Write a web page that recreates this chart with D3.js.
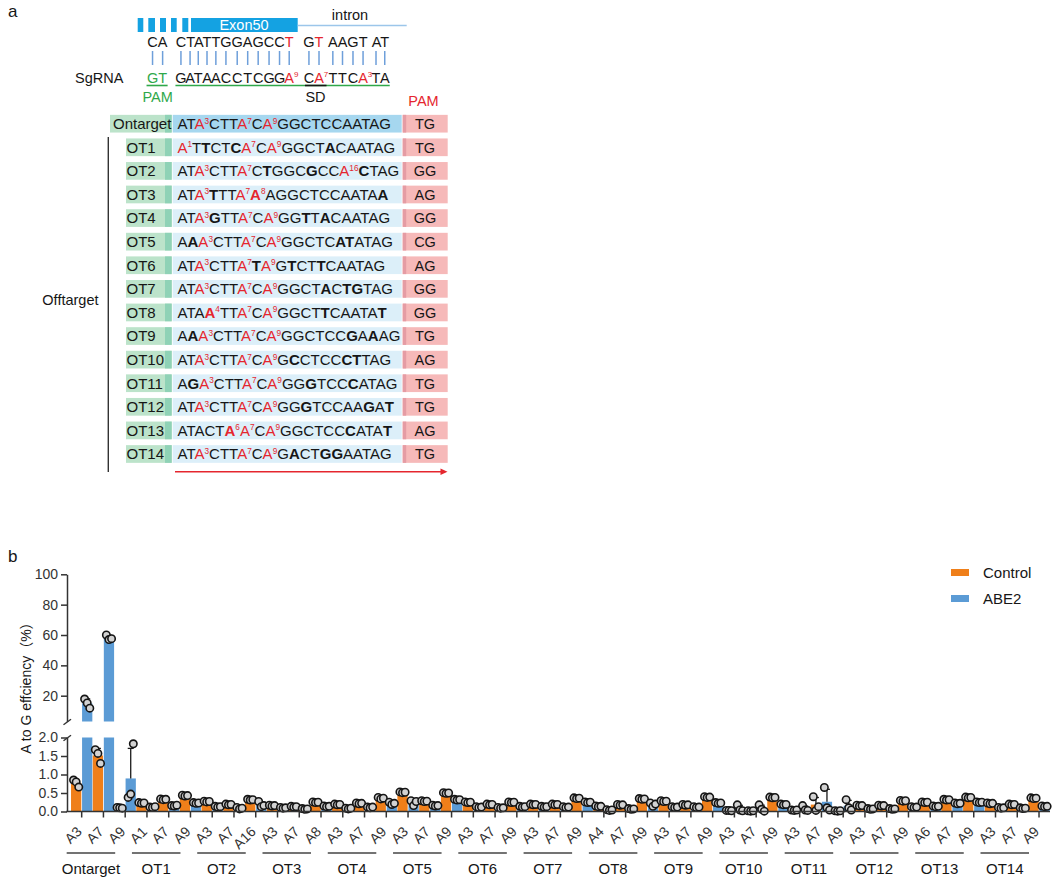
<!DOCTYPE html>
<html><head><meta charset="utf-8">
<script src="https://cdn.jsdelivr.net/npm/d3@7"></script>
<style>
body{margin:0;background:#fff;}
svg{display:block;font-family:"Liberation Sans",Arial,"Noto Sans CJK SC",sans-serif;}
</style></head><body>
<svg id="fig" width="1052" height="879"></svg>
<script>
// ---------- panel a data: target locus, sgRNA and candidate sites ----------
const locusGroups = ["CA", "CTATTGGAGCCT", "GT", "AAGT", "AT"];
const locusRedChars = [[], [11], [1], [], []];           // red bases (index inside each group)
const sgrnaTokens = "GT|GATAACCTCGG[A9]C[A7]TTC[A3]TA";  // "|" separates PAM from protospacer
const siteNames = ["Ontarget", "OT1", "OT2", "OT3", "OT4", "OT5", "OT6", "OT7",
                   "OT8", "OT9", "OT10", "OT11", "OT12", "OT13", "OT14"];
// [An] = red A with position n, {An} = bold red A, *X = bold mismatch
const siteSeqs = [
  "AT[A3]CTT[A7]C[A9]GGCTCCAATAG",
  "[A1]T*TCT*C[A7]C[A9]GGCT*ACAATAG",
  "AT[A3]CTT[A7]C*TGGC*GCC[A16]*CTAG",
  "AT[A3]*TTT[A7]{A8}AGGCTCCAATA*A",
  "AT[A3]*GTT[A7]C[A9]GG*TT*ACAATAG",
  "A*A[A3]CTT[A7]C[A9]GGCTC*A*TATAG",
  "AT[A3]CTT[A7]*T[A9]G*TCT*TCAATAG",
  "AT[A3]CTT[A7]C[A9]GGCT*AC*T*GTAG",
  "ATA{A4}TT[A7]C[A9]GGCT*TCAATA*T",
  "A*A[A3]CTT[A7]C[A9]GGCTCC*GA*AAG",
  "AT[A3]CTT[A7]C[A9]G*CCTCC*C*TTAG",
  "A*G[A3]CTT[A7]C[A9]GG*GTCC*CATAG",
  "AT[A3]CTT[A7]C[A9]GG*GTCCAA*GA*T",
  "ATACT{A6}[A7]C[A9]GGCTCC*CATA*T",
  "AT[A3]CTT[A7]C[A9]G*ACT*G*GAATAG"
];
const sitePams = ["TG", "TG", "GG", "AG", "GG", "CG", "AG", "GG", "GG", "TG", "AG", "TG", "TG", "AG", "TG"];

// ---------- panel b data: A-to-G editing efficiency (%), three replicates ----------
const groups = ["Ontarget", "OT1", "OT2", "OT3", "OT4", "OT5", "OT6", "OT7",
                "OT8", "OT9", "OT10", "OT11", "OT12", "OT13", "OT14"];
const siteLabels = [
  ["A3", "A7", "A9"], ["A1", "A7", "A9"], ["A3", "A7", "A16"], ["A3", "A7", "A8"],
  ["A3", "A7", "A9"], ["A3", "A7", "A9"], ["A3", "A7", "A9"], ["A3", "A7", "A9"],
  ["A4", "A7", "A9"], ["A3", "A7", "A9"], ["A3", "A7", "A9"], ["A3", "A7", "A9"],
  ["A3", "A7", "A9"], ["A6", "A7", "A9"], ["A3", "A7", "A9"]
];
const controlPts = [
  [0.85, 0.80, 0.66], [1.67, 1.57, 1.30], [0.11, 0.10, 0.09],
  [0.24, 0.22, 0.23], [0.34, 0.32, 0.33], [0.44, 0.42, 0.43],
  [0.28, 0.26, 0.27], [0.20, 0.18, 0.19], [0.33, 0.31, 0.32],
  [0.17, 0.15, 0.16], [0.14, 0.12, 0.13], [0.26, 0.24, 0.25],
  [0.20, 0.18, 0.19], [0.23, 0.21, 0.22], [0.38, 0.34, 0.36],
  [0.53, 0.51, 0.52], [0.29, 0.27, 0.28], [0.51, 0.49, 0.50],
  [0.26, 0.24, 0.25], [0.20, 0.18, 0.19], [0.26, 0.24, 0.25],
  [0.20, 0.18, 0.19], [0.20, 0.18, 0.19], [0.37, 0.35, 0.36],
  [0.15, 0.13, 0.14], [0.19, 0.17, 0.18], [0.35, 0.33, 0.34],
  [0.29, 0.27, 0.28], [0.19, 0.17, 0.18], [0.40, 0.38, 0.39],
  [0.03, 0.03, 0.02], [0.02, 0.01, 0.02], [0.39, 0.37, 0.38],
  [0.04, 0.03, 0.04], [0.40, 0.03, 0.13], [0.02, 0.01, 0.02],
  [0.17, 0.15, 0.16], [0.17, 0.15, 0.16], [0.30, 0.28, 0.29],
  [0.26, 0.24, 0.25], [0.33, 0.31, 0.32], [0.39, 0.37, 0.38],
  [0.23, 0.21, 0.22], [0.20, 0.18, 0.19], [0.37, 0.35, 0.36]
];
const abe2Pts = [
  [17.8, 15.2, 11.8], [60.0, 57.0, 57.6], [0.38, 0.47, 1.83],
  [0.12, 0.11, 0.13], [0.16, 0.15, 0.17], [0.24, 0.22, 0.23],
  [0.14, 0.12, 0.13], [0.11, 0.07, 0.09], [0.27, 0.13, 0.16],
  [0.11, 0.09, 0.10], [0.08, 0.06, 0.07], [0.15, 0.13, 0.14],
  [0.09, 0.07, 0.09], [0.12, 0.10, 0.12], [0.25, 0.19, 0.22],
  [0.29, 0.16, 0.27], [0.17, 0.15, 0.16], [0.33, 0.31, 0.32],
  [0.13, 0.11, 0.12], [0.11, 0.09, 0.10], [0.14, 0.12, 0.13],
  [0.14, 0.12, 0.13], [0.13, 0.11, 0.12], [0.26, 0.24, 0.25],
  [0.05, 0.03, 0.04], [0.08, 0.06, 0.07], [0.23, 0.14, 0.20],
  [0.13, 0.11, 0.12], [0.13, 0.11, 0.12], [0.24, 0.22, 0.23],
  [0.18, 0.04, 0.02], [0.18, 0.06, 0.01], [0.20, 0.18, 0.19],
  [0.16, 0.04, 0.03], [0.65, 0.10, 0.04], [0.32, 0.10, 0.04],
  [0.08, 0.06, 0.07], [0.08, 0.06, 0.07], [0.13, 0.11, 0.12],
  [0.15, 0.13, 0.14], [0.23, 0.21, 0.22], [0.26, 0.24, 0.25],
  [0.11, 0.09, 0.10], [0.10, 0.08, 0.09], [0.15, 0.13, 0.14]
];
const seriesNames = ["Control", "ABE2"];
const yTicksLow = [0, 0.5, 1.0, 1.5, 2.0];
const yTicksHigh = [20, 40, 60, 80, 100];

// ---------- shared styling ----------
const RED = "#E5262E", GREEN = "#2FA84A", INK = "#161616";
const seriesColor = {Control: "#EF7F1A", ABE2: "#5B9BD5"};

const svg = d3.select("#fig");

// parse a marked-up sequence into per-base tokens
function parseSeq(s) {
  const out = [];
  let i = 0;
  while (i < s.length) {
    const c = s[i];
    if (c === "[" || c === "{") {
      const close = c === "[" ? "]" : "}";
      const j = s.indexOf(close, i);
      const body = s.slice(i + 1, j);
      out.push({ch: body[0], sup: body.slice(1), red: true, bold: c === "{"});
      i = j + 1;
    } else if (c === "*") {
      out.push({ch: s[i + 1], bold: true});
      i += 2;
    } else if (c === "|") {
      out.push({sep: true});
      i += 1;
    } else {
      out.push({ch: c});
      i += 1;
    }
  }
  return out;
}

// write tokens as tspans of one text element
function writeSeq(textSel, tokens, fs) {
  let lift = 0;
  tokens.forEach(t => {
    const base = textSel.append("tspan").text(t.ch)
      .attr("fill", t.red ? RED : INK)
      .attr("font-weight", t.bold ? "bold" : null);
    if (lift) { base.attr("dy", lift); lift = 0; }
    if (t.sup) {
      textSel.append("tspan").text(t.sup)
        .attr("font-size", fs * 0.55).attr("dy", -fs * 0.36)
        .attr("fill", RED);
      lift = fs * 0.36;
    }
  });
}

// ---------- panel a ----------
const pa = svg.append("g");
pa.append("text").attr("x", 8).attr("y", 17).attr("font-size", 17).attr("fill", INK).text("a");

// gene structure: exon blocks, exon 50 and intron
const blockX = [[137.7, 143.3], [148.3, 155], [160, 166], [171, 176.7], [182.3, 188.3]];
pa.selectAll("rect.blk").data(blockX).join("rect").attr("class", "blk")
  .attr("x", d => d[0]).attr("width", d => d[1] - d[0]).attr("y", 18).attr("height", 14)
  .attr("fill", "#14A2E2");
pa.append("rect").attr("x", 191).attr("y", 18).attr("width", 106.7).attr("height", 14).attr("fill", "#14A2E2");
pa.append("text").attr("x", 244).attr("y", 30).attr("text-anchor", "middle")
  .attr("font-size", 14.5).attr("fill", "#fff").text("Exon50");
pa.append("line").attr("x1", 297.7).attr("x2", 406.7).attr("y1", 25.5).attr("y2", 25.5)
  .attr("stroke", "#9CC6EA").attr("stroke-width", 1.5);
pa.append("text").attr("x", 350).attr("y", 20).attr("text-anchor", "middle")
  .attr("font-size", 14.5).attr("fill", INK).text("intron");

// genomic sequence, base by base
const locusStart = [147.3, 175.7, 303.3, 328, 371.7];
const colCenters = [];
locusGroups.forEach((g, gi) => {
  const t = pa.append("text").attr("x", locusStart[gi]).attr("y", 46.7).attr("font-size", 14.5);
  [...g].forEach((ch, ci) => {
    t.append("tspan").text(ch).attr("fill", locusRedChars[gi].includes(ci) ? RED : INK);
  });
  const node = t.node();
  for (let ci = 0; ci < g.length; ci++) {
    const e = node.getExtentOfChar(ci);
    colCenters.push({x: e.x + e.width / 2, w: e.width});
  }
});
// base-pairing ticks
pa.selectAll("line.pair").data(colCenters).join("line").attr("class", "pair")
  .attr("x1", d => d.x).attr("x2", d => d.x).attr("y1", 51).attr("y2", 65)
  .attr("stroke", "#6E9FDA").attr("stroke-width", 1.5);

// sgRNA bases placed under their partners
pa.append("text").attr("x", 75).attr("y", 82.5).attr("font-size", 14.5).attr("fill", INK).text("SgRNA");
const sgTok = parseSeq(sgrnaTokens);
let col = 0, inPam = true;
sgTok.forEach(t => {
  if (t.sep) { inPam = false; return; }
  const c = colCenters[col++];
  pa.append("text").attr("x", c.x).attr("y", 82.5).attr("text-anchor", "middle")
    .attr("font-size", 14.5).attr("fill", inPam ? GREEN : (t.red ? RED : INK)).text(t.ch);
  if (t.sup) {
    pa.append("text").attr("x", c.x + c.w / 2 + 0.3).attr("y", 77).attr("font-size", 8)
      .attr("fill", RED).text(t.sup);
  }
});
// underlines: PAM, protospacer, splice donor
const ul = (x1, x2, color) => pa.append("line").attr("x1", x1).attr("x2", x2)
  .attr("y1", 85.5).attr("y2", 85.5).attr("stroke", color).attr("stroke-width", 1.6);
ul(colCenters[0].x - 6, colCenters[1].x + 5, GREEN);
ul(colCenters[2].x - 5.5, colCenters[21].x + 5, GREEN);
ul(colCenters[14].x - 4, colCenters[15].x + 7.5, INK);
pa.append("text").attr("x", (colCenters[0].x + colCenters[1].x) / 2).attr("y", 101.7)
  .attr("text-anchor", "middle").attr("font-size", 14.5).attr("fill", GREEN).text("PAM");
pa.append("text").attr("x", (colCenters[14].x + colCenters[15].x) / 2 + 1.5).attr("y", 101.7)
  .attr("text-anchor", "middle").attr("font-size", 14.5).attr("fill", INK).text("SD");
pa.append("text").attr("x", 423.5).attr("y", 106).attr("text-anchor", "middle")
  .attr("font-size", 14.5).attr("fill", RED).text("PAM");

// site table
const rowY = d3.scalePoint().domain(siteNames).range([123.7, 454]);
const rowH = 17.7;
siteNames.forEach((name, i) => {
  const yc = rowY(name);
  const onT = i === 0;
  const g = pa.append("g");
  const lx = onT ? 110 : 126;
  g.append("rect").attr("x", lx).attr("y", yc - rowH / 2).attr("width", 171.7 - lx).attr("height", rowH).attr("fill", "#BCE3CA");
  g.append("rect").attr("x", 165).attr("y", yc - rowH / 2).attr("width", 6.7).attr("height", rowH).attr("fill", "#8FD2B6");
  g.append("rect").attr("x", 172.7).attr("y", yc - rowH / 2).attr("width", 229).attr("height", rowH)
    .attr("fill", onT ? "#A6D7EF" : "#DCEFF9");
  g.append("rect").attr("x", 402.7).attr("y", yc - rowH / 2).attr("width", 45).attr("height", rowH).attr("fill", "#F6B9B9");
  g.append("rect").attr("x", 402.7).attr("y", yc - rowH / 2).attr("width", 3.5).attr("height", rowH).attr("fill", "#E59CA4");
  g.append("text").attr("x", lx + (onT ? 3 : 0.5)).attr("y", yc + 5.4).attr("font-size", 15).attr("fill", INK).text(name);
  const st = g.append("text").attr("x", 177.5).attr("y", yc + 5.4).attr("font-size", 15);
  writeSeq(st, parseSeq(siteSeqs[i]), 15);
  g.append("text").attr("x", 425).attr("y", yc + 5.4).attr("text-anchor", "middle")
    .attr("font-size", 14.5).attr("fill", INK).text(sitePams[i]);
});
// off-target bracket
pa.append("line").attr("x1", 108.3).attr("x2", 108.3).attr("y1", 137).attr("y2", 472)
  .attr("stroke", "#333").attr("stroke-width", 1.4);
pa.append("text").attr("x", 98.5).attr("y", 305).attr("text-anchor", "end")
  .attr("font-size", 14.5).attr("fill", INK).text("Offtarget");
// 5'->3' arrow
pa.append("line").attr("x1", 175).attr("x2", 442).attr("y1", 471.7).attr("y2", 471.7)
  .attr("stroke", RED).attr("stroke-width", 1.4);
pa.append("path").attr("d", "M447.5,471.7 L440.5,468.4 L440.5,475 Z").attr("fill", RED);

// ---------- panel b ----------
const pb = svg.append("g");
pb.append("text").attr("x", 8).attr("y", 562).attr("font-size", 17).attr("fill", INK).text("b");

const cats = [];
groups.forEach((g, gi) => siteLabels[gi].forEach(l => cats.push({group: g, label: l, id: g + "|" + l})));
cats.forEach((c, i) => { c.Control = controlPts[i]; c.ABE2 = abe2Pts[i]; });

const x = d3.scaleBand().domain(cats.map(c => c.id)).range([70.8, 1049.9]).padding(0);
const bw = x.bandwidth();
const xs = d3.scaleBand().domain(seriesNames).range([0, bw]).paddingInner(0.07).paddingOuter(0.02);
const yLow = d3.scaleLinear().domain([0, 2]).range([811.5, 737.5]);
const yHigh = d3.scaleLinear().domain([3, 100]).range([721.5, 574.3]);
const yPos = v => (v <= 2 ? yLow(v) : yHigh(v));

// bars (broken axis: values above 2 run through the lower segment into the upper one)
const barG = pb.append("g");
cats.forEach(c => {
  seriesNames.forEach(s => {
    const m = d3.mean(c[s]);
    const bx = x(c.id) + xs(s);
    const col = seriesColor[s];
    if (m <= 2) {
      barG.append("rect").attr("x", bx).attr("width", xs.bandwidth())
        .attr("y", yLow(m)).attr("height", yLow(0) - yLow(m)).attr("fill", col);
    } else {
      barG.append("rect").attr("x", bx).attr("width", xs.bandwidth())
        .attr("y", yLow(2)).attr("height", yLow(0) - yLow(2)).attr("fill", col);
      barG.append("rect").attr("x", bx).attr("width", xs.bandwidth())
        .attr("y", yHigh(m)).attr("height", yHigh(3) - yHigh(m)).attr("fill", col);
    }
  });
});

// error bars (mean + SD)
const errG = pb.append("g").attr("stroke", "#1a1a1a").attr("stroke-width", 1.3);
cats.forEach(c => {
  seriesNames.forEach(s => {
    const m = d3.mean(c[s]), sd = d3.deviation(c[s]);
    const cx = x(c.id) + xs(s) + xs.bandwidth() / 2;
    errG.append("line").attr("x1", cx).attr("x2", cx).attr("y1", yPos(m)).attr("y2", yPos(m + sd));
    errG.append("line").attr("x1", cx - 3).attr("x2", cx + 3).attr("y1", yPos(m + sd)).attr("y2", yPos(m + sd));
  });
});

// replicate points
const jitter = [-2.6, 0, 2.6];
const ptG = pb.append("g");
cats.forEach(c => {
  seriesNames.forEach(s => {
    const cx = x(c.id) + xs(s) + xs.bandwidth() / 2;
    c[s].forEach((v, k) => {
      ptG.append("circle").attr("cx", cx + jitter[k]).attr("cy", yPos(v)).attr("r", 3.7)
        .attr("fill", "#d2d2d2").attr("stroke", "#151515").attr("stroke-width", 1.6);
    });
  });
});

// axes
const axisColor = "#333";
const styleAxis = g => {
  g.selectAll("path,line").attr("stroke", axisColor).attr("stroke-width", 1.5);
  g.selectAll("text").attr("fill", axisColor).attr("font-size", 14)
    .attr("font-family", "Liberation Sans, Arial, sans-serif");
};
pb.append("g").attr("transform", "translate(67,0)")
  .call(d3.axisLeft(yLow).tickValues(yTicksLow).tickFormat(d3.format(".1f")).tickSize(6).tickSizeOuter(0))
  .call(styleAxis);
pb.append("g").attr("transform", "translate(67,0)")
  .call(d3.axisLeft(yHigh).tickValues(yTicksHigh).tickSize(6).tickSizeOuter(0))
  .call(styleAxis);
// break marks
[722, 738].forEach(yb => {
  pb.append("line").attr("x1", 63.5).attr("x2", 71).attr("y1", yb + 2.8).attr("y2", yb - 2.8)
    .attr("stroke", axisColor).attr("stroke-width", 1.4);
});

const xAxis = pb.append("g").attr("transform", `translate(0,${yLow(0)})`)
  .call(d3.axisBottom(x).tickSize(6).tickSizeOuter(0).tickFormat(id => id.split("|")[1]))
  .call(styleAxis);
xAxis.select(".domain").remove();
xAxis.append("line").attr("x1", 66.3).attr("x2", 1050).attr("y1", 0).attr("y2", 0)
  .attr("stroke", axisColor).attr("stroke-width", 1.5);
xAxis.selectAll(".tick text").attr("x", 0).attr("y", 0).attr("dy", 0)
  .attr("transform", "translate(1,21) rotate(-45)").style("text-anchor", "end");

// group brackets under the site labels
groups.forEach((g, gi) => {
  const ids = siteLabels[gi].map(l => g + "|" + l);
  const x1 = x(ids[0]) + bw / 2 - 15, x2 = x(ids[2]) + bw / 2 - 10;
  pb.append("line").attr("x1", x1).attr("x2", x2).attr("y1", 853).attr("y2", 853)
    .attr("stroke", "#444").attr("stroke-width", 1.3);
  pb.append("text").attr("x", (x1 + x2) / 2).attr("y", 873.5).attr("text-anchor", "middle")
    .attr("font-size", 15).attr("fill", INK).text(g);
});

// y title
pb.append("text").attr("transform", "translate(31,684.5) rotate(-90)").attr("text-anchor", "middle")
  .attr("font-size", 14).attr("fill", INK).text("A to G effciency（%）");

// legend
const leg = pb.append("g").selectAll("g").data(seriesNames).join("g")
  .attr("transform", (d, i) => `translate(951,${569 + i * 26})`);
leg.append("rect").attr("width", 18).attr("height", 7).attr("fill", d => seriesColor[d]);
leg.append("text").attr("x", 32).attr("y", 9).attr("font-size", 15).attr("fill", INK).text(d => d);
</script>
</body></html>
